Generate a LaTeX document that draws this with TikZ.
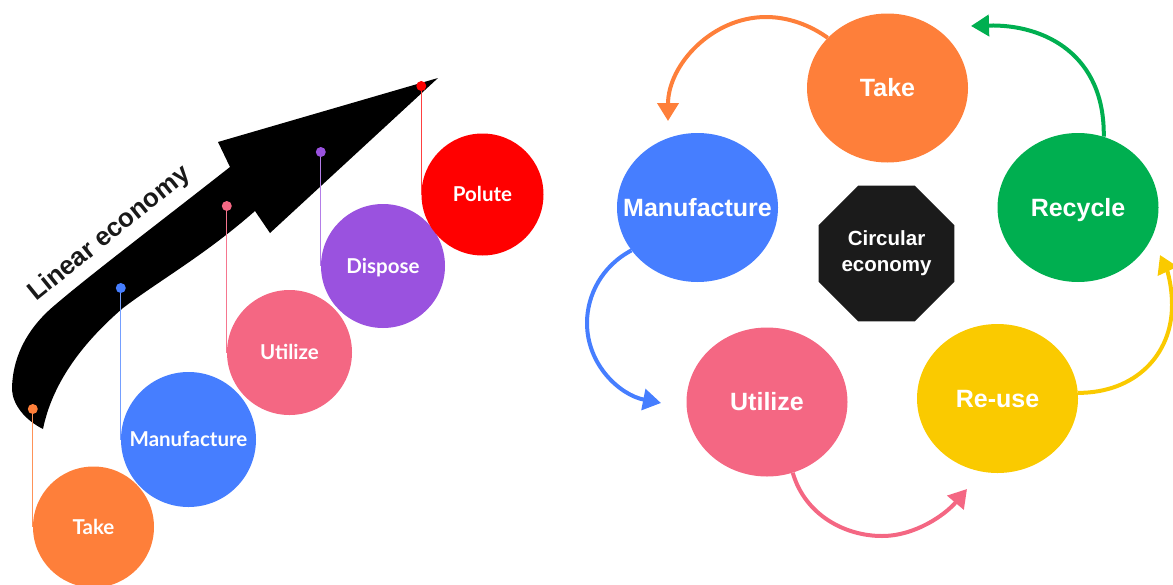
\documentclass[tikz,border=0pt]{standalone}
\usepackage{fontspec}
\setmainfont{Liberation Sans}
\newfontfamily\latofont{Lato}
\usetikzlibrary{shapes.geometric,arrows.meta}

\definecolor{cOrange}{HTML}{FE7F3A}
\definecolor{cBlue}{HTML}{467EFF}
\definecolor{cPink}{HTML}{F46783}
\definecolor{cPurple}{HTML}{9A52DF}
\definecolor{cRed}{HTML}{FF0000}
\definecolor{cGreen}{HTML}{00AF50}
\definecolor{cYellow}{HTML}{FACA00}
\definecolor{cInk}{HTML}{1B1B1B}

\tikzset{
  lball/.style={circle, fill=#1, text=white, inner sep=0pt,
    text height=14.7pt, text depth=0pt,
    font=\latofont\bfseries\fontsize{20.5}{20.5}\selectfont},
  rball/.style={ellipse, fill=#1, text=white, inner xsep=-40pt, inner ysep=0pt,
    minimum width=161pt, minimum height=149pt,
    text height=17.9pt, text depth=0pt,
    font=\bfseries\fontsize{25}{25}\selectfont},
  pindot/.style={circle, fill=#1, inner sep=0pt, minimum size=10pt},
  pinline/.style={draw=#1, line width=1.3pt},
  flow/.style={draw=#1, line width=4pt,
    -{Triangle[length=18pt,width=21pt]}},
  hub/.style={regular polygon, regular polygon sides=8, minimum size=147pt,
    fill=cInk, text=white, inner sep=0pt, align=center,
    font=\bfseries\fontsize{20.5}{26}\selectfont}
}

\begin{document}
\begin{tikzpicture}[x=1pt,y=-1pt]
\useasboundingbox (0,0) rectangle (1173,584);

% ---------- linear economy ----------
% curved black arrow
\fill[black] (43,429) .. controls (52,385) and (80,345) .. (123,308)
  .. controls (160,280) and (205,255) .. (255,211)
  -- (270,233) -- (438,78) -- (218,142) -- (230,167)
  .. controls (160,222) and (90,275) .. (55,305)
  .. controls (25,330) and (12,360) .. (12,390)
  .. controls (13,405) and (25,420) .. (43,429) -- cycle;
\node[rotate=38.9, anchor=base west, inner sep=0pt, text=black!90,
  font=\bfseries\fontsize{26}{26}\selectfont] (lintitle) at (36,302) {Linear economy};

% stage circles
\node[lball=cOrange, minimum size=121pt] (ltake) at (93.5,527) {Take};
\node[lball=cBlue,   minimum size=135pt] (lmanu) at (188.5,439.5) {Manufacture};
\node[lball=cPink,   minimum size=125pt] (lutil) at (289.5,352.5) {Utilize};
\node[lball=cPurple, minimum size=124pt] (ldisp) at (383,266) {Dispose};
\node[lball=cRed,    minimum size=122pt] (lpol)  at (482.5,194.5) {Polute};

% pins on the arrow
\coordinate (dtake) at (ltake.west |- 0,409);
\coordinate (dmanu) at (lmanu.west |- 0,288);
\coordinate (dutil) at (lutil.west |- 0,206);
\coordinate (ddisp) at (ldisp.west |- 0,152);
\coordinate (dpol)  at (lpol.west  |- 0,86);

\draw[pinline=cOrange!85!white] (dtake) -- (ltake.west);
\draw[pinline=cBlue!75!white]   (dmanu) -- (lmanu.west);
\draw[pinline=cPink!90!white]   (dutil) -- (lutil.west);
\draw[pinline=cPurple!75!white] (ddisp) -- (ldisp.west);
\draw[pinline=cRed!75!white]    (dpol)  -- (lpol.west);

\node[pindot=cOrange] (ptake) at (dtake) {};
\node[pindot=cBlue]   (pmanu) at (dmanu) {};
\node[pindot=cPink]   (putil) at (dutil) {};
\node[pindot=cPurple] (pdisp) at (ddisp) {};
\node[pindot=cRed]    (ppol)  at (dpol)  {};

% ---------- circular economy ----------
\node[rball=cOrange] (rtake)  at (887.5,88)    {Take};
\node[rball=cBlue]   (rmanu)  at (697.5,207.5) {Manufacture};
\node[rball=cGreen]  (rrecy)  at (1078,207.5)  {Recycle};
\node[rball=cPink]   (rutil)  at (767,402)     {Utilize};
\node[rball=cYellow] (rreuse) at (997.5,398.5) {Re-use};
\node[hub] (core) at (886.5,253.5) {Circular\\economy};

\coordinate (toManu)  at (668,121);
\coordinate (toTake)  at (971,26);
\coordinate (toRecy)  at (1160,255);
\coordinate (toUtil)  at (661,403);
\coordinate (toReuse) at (967,489);

\draw[flow=cOrange] (rtake.140) .. controls (810,25) and (788,17) .. (766,17)
  .. controls (712,17) and (668,65) .. (toManu);
\draw[flow=cGreen] (rrecy.70) .. controls (1105,55) and (1045,24) .. (toTake);
\draw[flow=cYellow] (rreuse.4) .. controls (1135,393) and (1172,355) .. (1172,305)
  .. controls (1172,285) and (1167,270) .. (toRecy);
\draw[flow=cBlue] (rmanu.213) .. controls (602,266) and (587,295) .. (587,323)
  .. controls (587,365) and (620,395) .. (toUtil);
\draw[flow=cPink] (rutil.290) .. controls (805,515) and (845,536) .. (882,536)
  .. controls (915,536) and (945,515) .. (toReuse);
\end{tikzpicture}
\end{document}
